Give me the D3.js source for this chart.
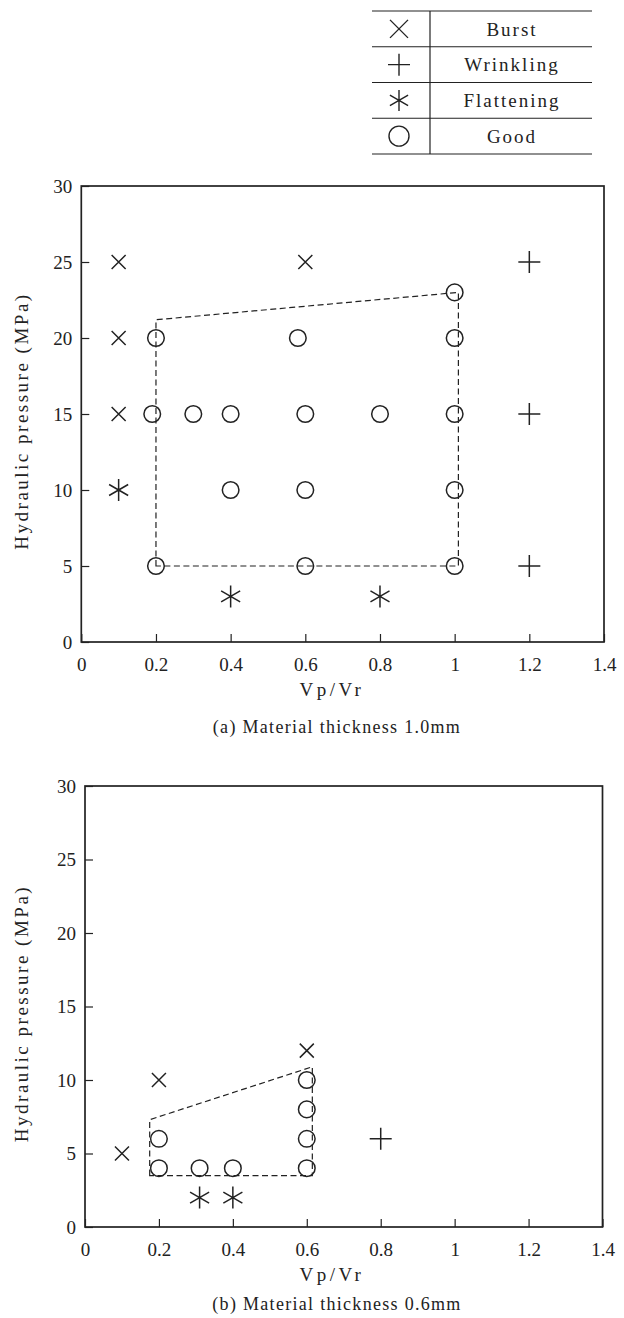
<!DOCTYPE html>
<html>
<head>
<meta charset="utf-8">
<script src="https://cdn.jsdelivr.net/npm/d3@7"></script>
<style>
  body { margin: 0; background: #fff; }
  text { font-family: "Liberation Serif", "DejaVu Serif", serif; fill: #222; }
</style>
</head>
<body>
<svg id="chart"></svg>
<script>
const xTicks = [0, 0.2, 0.4, 0.6, 0.8, 1, 1.2, 1.4];
const yTicks = [0, 5, 10, 15, 20, 25, 30];
const legendNames = ["Burst", "Wrinkling", "Flattening", "Good"];

// (a) material thickness 1.0mm
const burstA = [[0.1, 25], [0.6, 25], [0.1, 20], [0.1, 15]];
const wrinkA = [[1.2, 25], [1.2, 15], [1.2, 5]];
const flatA = [[0.1, 10], [0.4, 3], [0.8, 3]];
const goodA = [[0.2, 20], [0.58, 20], [1, 23], [1, 20], [0.19, 15], [0.3, 15], [0.4, 15],
  [0.6, 15], [0.8, 15], [1, 15], [0.4, 10], [0.6, 10], [1, 10], [0.2, 5], [0.6, 5], [1, 5]];
const regionA = [[0.2, 5], [0.2, 21.2], [1.01, 23], [1.01, 5]];

// (b) material thickness 0.6mm
const burstB = [[0.1, 5], [0.2, 10], [0.6, 12]];
const wrinkB = [[0.8, 6]];
const flatB = [[0.31, 2], [0.4, 2]];
const goodB = [[0.2, 6], [0.2, 4], [0.31, 4], [0.4, 4], [0.6, 10], [0.6, 8], [0.6, 6], [0.6, 4]];
const regionB = [[0.175, 3.5], [0.175, 7.3], [0.615, 10.9], [0.615, 3.5]];

const width = 624;
const height = 1318;
const ink = "#222";
const serif = '"Liberation Serif", "DejaVu Serif", serif';

const svg = d3.select("#chart").attr("width", width).attr("height", height);

// d3 stroke symbols, sized by half-width in px
function symbolPath(kind, r) {
  if (kind === "Burst") return d3.symbol(d3.symbolTimes, (r / 0.6189) ** 2 + 1.7)();
  if (kind === "Wrinkling") return d3.symbol(d3.symbolPlus, (r / 0.87559) ** 2 + 2)();
  if (kind === "Flattening") return d3.symbol(d3.symbolAsterisk, (r / 0.59436) ** 2 - 0.75)();
  return d3.symbol(d3.symbolCircle, Math.PI * r * r)();
}
const markR = { Burst: 7, Wrinkling: 11, Flattening: 11, Good: 8.3 };

// legend table
const lg = svg.append("g");
const rowH = 35.75;
const lgTop = 11;
d3.range(5).forEach((i) => {
  lg.append("line")
    .attr("x1", 372).attr("x2", 592)
    .attr("y1", lgTop + i * rowH).attr("y2", lgTop + i * rowH)
    .attr("stroke", ink).attr("stroke-width", 1.2);
});
lg.append("line")
  .attr("x1", 430).attr("x2", 430)
  .attr("y1", lgTop).attr("y2", lgTop + 4 * rowH)
  .attr("stroke", ink).attr("stroke-width", 1.2);
const legR = { Burst: 9, Wrinkling: 11, Flattening: 10.5, Good: 10 };
legendNames.forEach((name, i) => {
  const cy = lgTop + (i + 0.5) * rowH;
  lg.append("path")
    .attr("d", symbolPath(name, legR[name]))
    .attr("transform", `translate(399,${cy})`)
    .attr("fill", "none").attr("stroke", ink).attr("stroke-width", 1.4);
  lg.append("text")
    .attr("x", 512).attr("y", cy).attr("dy", "0.35em")
    .attr("text-anchor", "middle")
    .style("font-family", serif)
    .style("font-size", "19px").style("letter-spacing", "2px")
    .text(name);
});

function drawPanel(p) {
  const x = d3.scaleLinear().domain([0, 1.4]).range([p.left, p.right]);
  const y = d3.scaleLinear().domain([0, 30]).range([p.bottom, p.top]);
  const g = svg.append("g");

  const xAxis = g.append("g")
    .attr("transform", `translate(0,${p.bottom})`)
    .call(d3.axisBottom(x).tickValues(xTicks).tickFormat(d3.format("~g"))
      .tickSizeInner(-8).tickSizeOuter(0).tickPadding(16));
  const yAxis = g.append("g")
    .attr("transform", `translate(${p.left},0)`)
    .call(d3.axisLeft(y).tickValues(yTicks)
      .tickSizeInner(-8).tickSizeOuter(0).tickPadding(9));
  [xAxis, yAxis].forEach((a) => {
    a.attr("font-family", null);
    a.select(".domain").remove();
    a.selectAll(".tick line").attr("stroke", ink).attr("stroke-width", 1.2);
    a.selectAll(".tick text")
      .attr("fill", ink)
      .style("font-family", serif)
      .style("font-size", "19px");
  });

  g.append("rect")
    .attr("x", p.left).attr("y", p.top)
    .attr("width", p.right - p.left).attr("height", p.bottom - p.top)
    .attr("fill", "none").attr("stroke", ink).attr("stroke-width", 1.7);

  g.append("path")
    .datum(p.region)
    .attr("d", d3.line().x((d) => x(d[0])).y((d) => y(d[1])).curve(d3.curveLinearClosed))
    .attr("fill", "none").attr("stroke", ink)
    .attr("stroke-width", 1.2).attr("stroke-dasharray", "6,3.5");

  const sets = [["Burst", p.burst], ["Wrinkling", p.wrink], ["Flattening", p.flat], ["Good", p.good]];
  sets.forEach(([kind, pts]) => {
    g.selectAll(null)
      .data(pts)
      .enter()
      .append("path")
      .attr("d", symbolPath(kind, markR[kind]))
      .attr("transform", (d) => `translate(${x(d[0])},${y(d[1])})`)
      .attr("fill", "none").attr("stroke", ink).attr("stroke-width", 1.5);
  });

  g.append("text")
    .attr("transform", `translate(28,${(p.top + p.bottom) / 2 + 7}) rotate(-90)`)
    .attr("text-anchor", "middle")
    .style("font-family", serif)
    .style("font-size", "19px").style("letter-spacing", "2.5px")
    .text("Hydraulic pressure (MPa)");

  g.append("text")
    .attr("x", 332).attr("y", p.bottom + 54)
    .attr("text-anchor", "middle")
    .style("font-family", serif)
    .style("font-size", "19px").style("letter-spacing", "3.5px")
    .text("Vp/Vr");

  g.append("text")
    .attr("x", 337).attr("y", p.bottom + p.capGap)
    .attr("text-anchor", "middle")
    .style("font-family", serif)
    .style("font-size", "18px").style("letter-spacing", "1.3px")
    .text(p.caption);
}

drawPanel({
  left: 81.3, right: 604, top: 186, bottom: 642, capGap: 91,
  burst: burstA, wrink: wrinkA, flat: flatA, good: goodA, region: regionA,
  caption: "(a) Material thickness 1.0mm"
});
drawPanel({
  left: 85, right: 602.5, top: 786, bottom: 1227, capGap: 83,
  burst: burstB, wrink: wrinkB, flat: flatB, good: goodB, region: regionB,
  caption: "(b) Material thickness 0.6mm"
});
</script>
</body>
</html>
